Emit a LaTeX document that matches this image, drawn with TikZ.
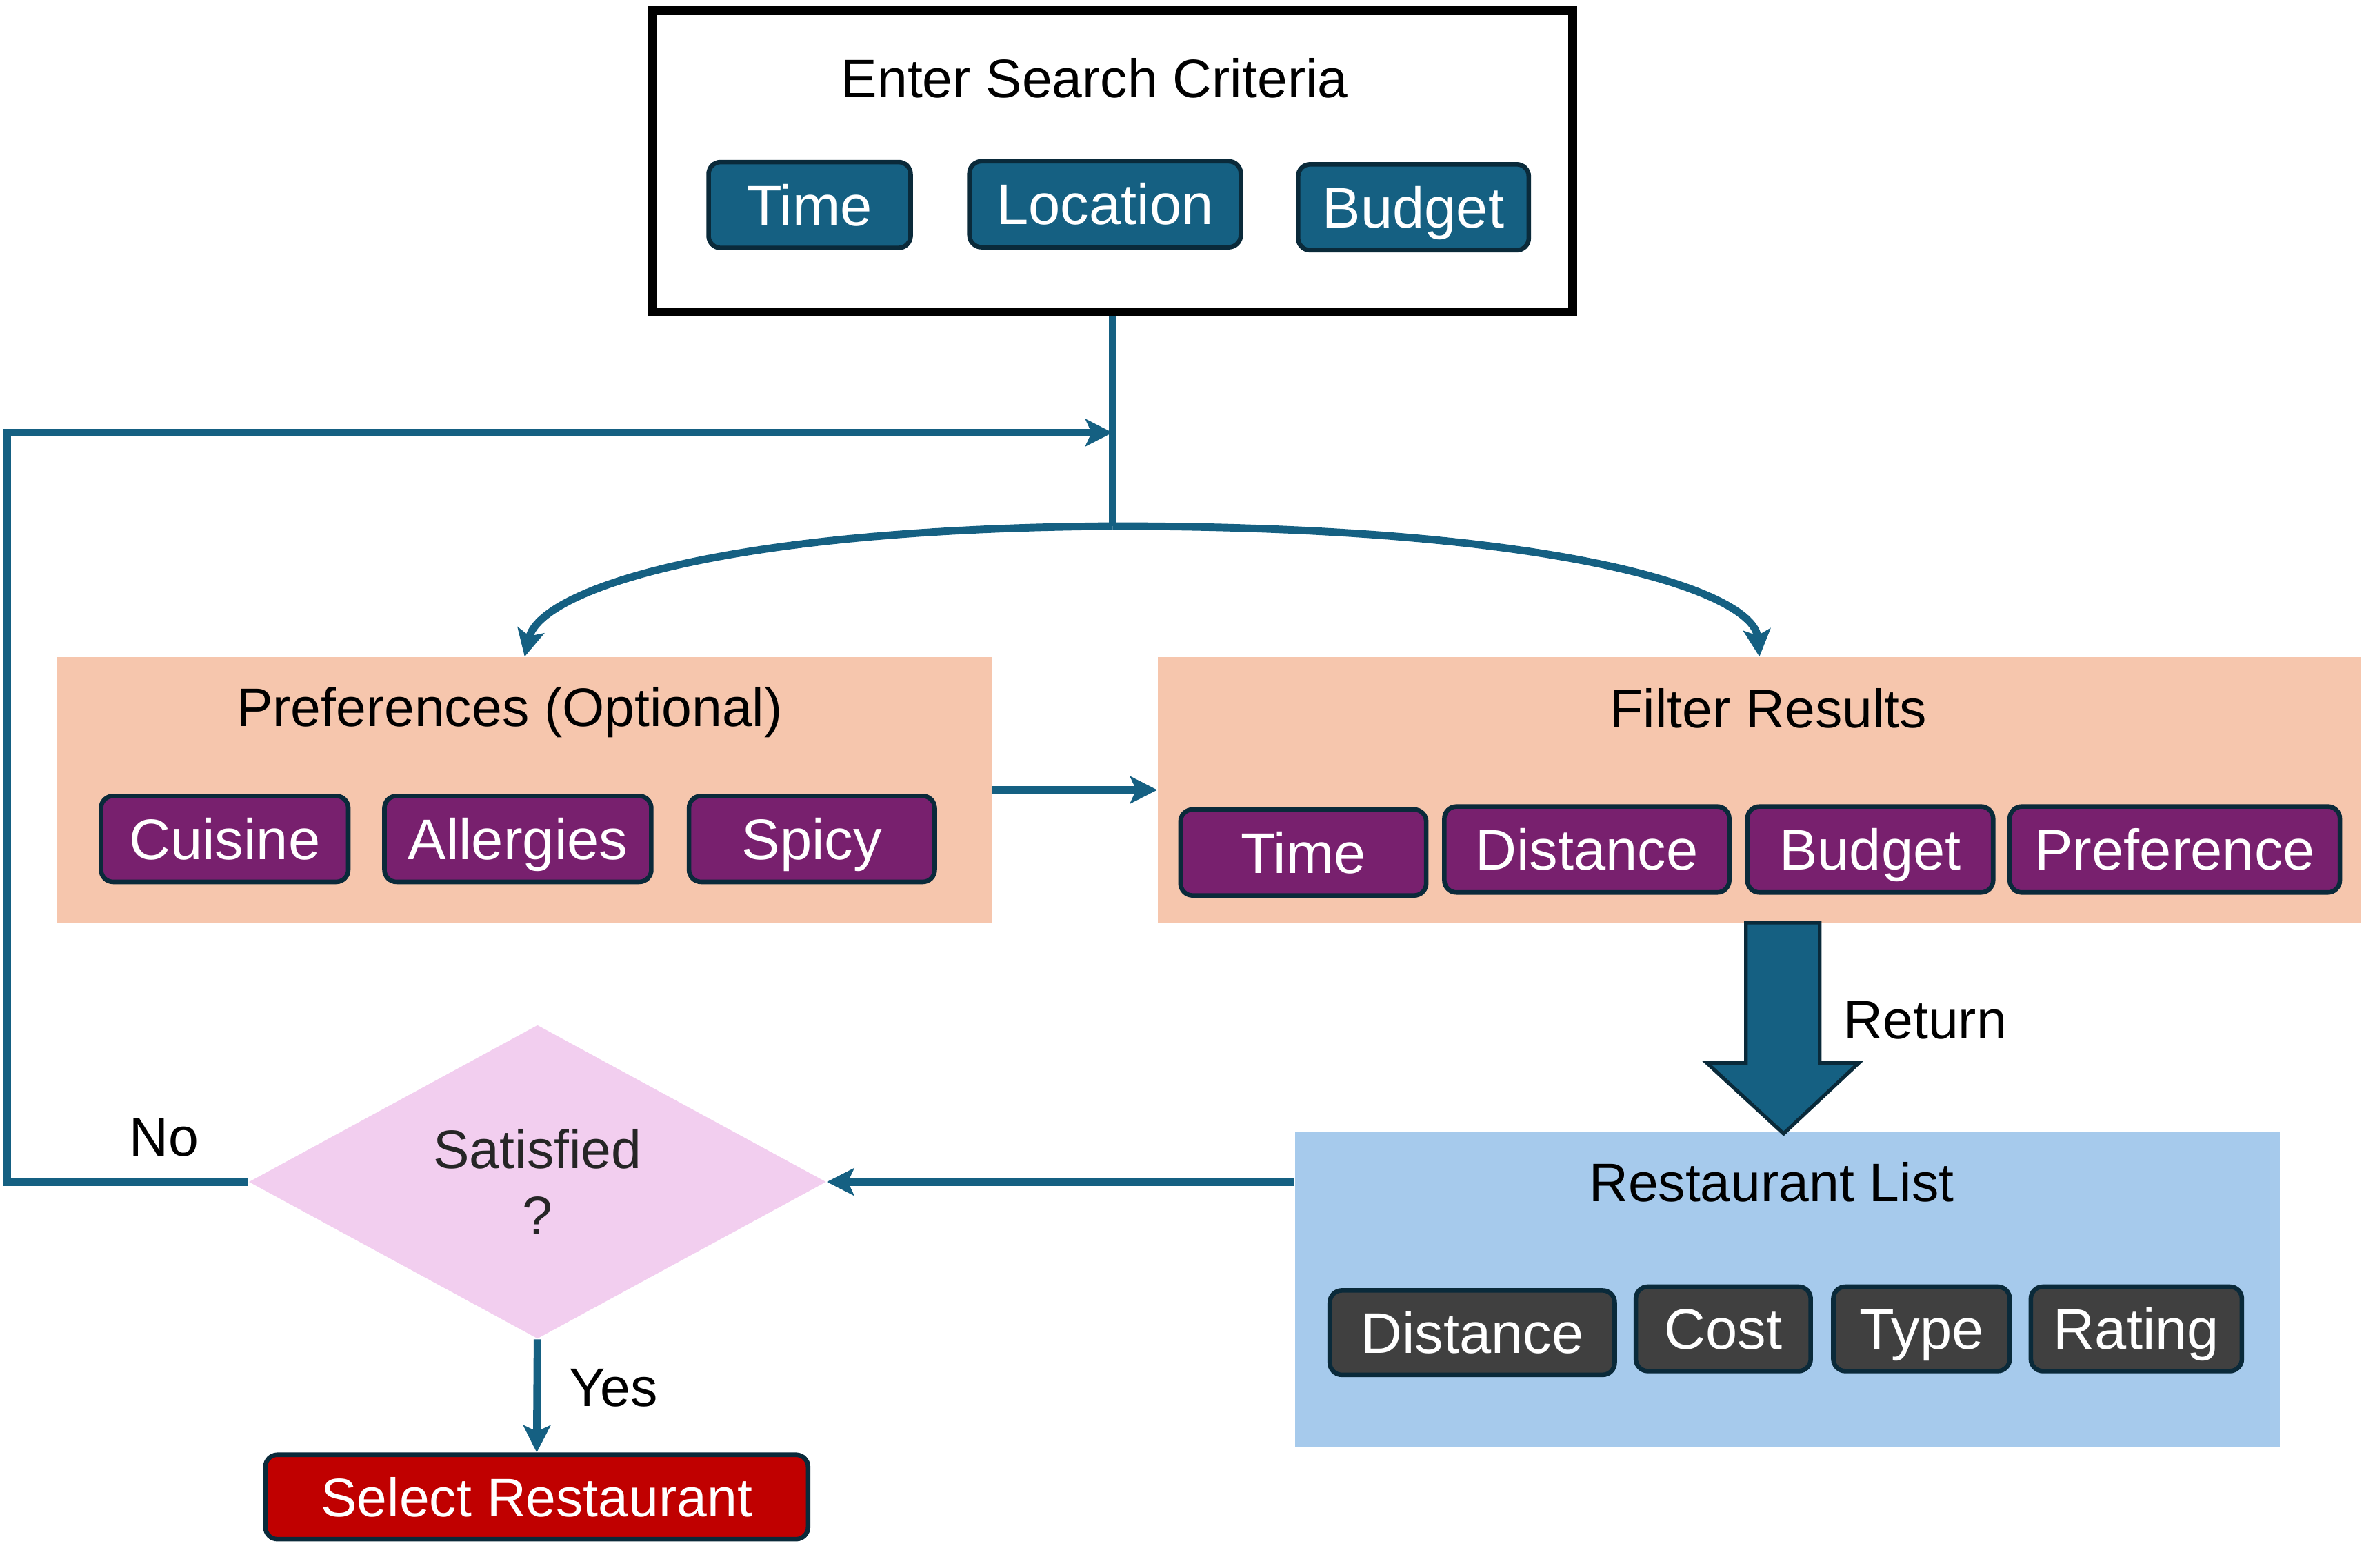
\documentclass[tikz,border=0pt]{standalone}
\usepackage{fontspec}
\setmainfont{Liberation Sans}
\usetikzlibrary{arrows.meta,shapes.geometric,calc}
\definecolor{accblue}{HTML}{156082}
\definecolor{btnline}{HTML}{0A2A3A}
\definecolor{accpurple}{HTML}{78206E}
\definecolor{accgray}{HTML}{404040}
\definecolor{accpeach}{HTML}{F6C6AD}
\definecolor{acclight}{HTML}{A6CAEC}
\definecolor{accpink}{HTML}{F2CEEF}
\definecolor{accred}{HTML}{C00000}
\begin{document}
\begin{tikzpicture}[x=0.5pt,y=-0.5pt,
  btn/.style={draw=btnline, line width=1.5pt, rounded corners=4pt, text=white,
    font=\fontsize{19}{22}\selectfont, minimum height=28.5pt, inner sep=0pt,
    text height=13.6pt, text depth=0pt},
  bluebtn/.style={btn, fill=accblue},
  purplebtn/.style={btn, fill=accpurple},
  graybtn/.style={btn, fill=accgray, minimum height=28pt},
  panel/.style={inner sep=0pt, draw=none},
  lbl/.style={font=\fontsize{18}{22}\selectfont, inner sep=0pt, text height=12.9pt, text depth=0pt},
  conn/.style={draw=accblue, line width=2.5pt},
  arr/.style={conn, -{Stealth[length=9pt,width=9pt,inset=2pt]}}
]
\useasboundingbox (0,0) rectangle (1568,1040);

% top box
\node[panel, draw=black, line width=3pt, fill=white, minimum width=305pt, minimum height=100pt] (top) at (738,107) {};
\node[lbl] (toptitle) at (726,52) {Enter Search Criteria};
\node[bluebtn, minimum width=67pt] (ttime) at (537,136) {Time};
\node[bluebtn, minimum width=90pt] (tloc) at (733,135.5) {Location};
\node[bluebtn, minimum width=76.5pt] (tbud) at (937.5,137.5) {Budget};

% preferences
\node[panel, fill=accpeach, minimum width=310pt, minimum height=88pt] (pref) at (348,524) {};
\node[lbl] (preftitle) at (338,469) {Preferences (Optional)};
\node[purplebtn, minimum width=82pt] (pcui) at (149,556.5) {Cuisine};
\node[purplebtn, minimum width=88.5pt] (pall) at (343.5,556.5) {Allergies};
\node[purplebtn, minimum width=81.5pt] (pspi) at (538.5,556.5) {Spicy};

% filter
\node[panel, fill=accpeach, minimum width=399pt, minimum height=88pt] (filt) at (1167,524) {};
\node[lbl] (filttitle) at (1173,470) {Filter Results};
\node[purplebtn, minimum width=81.5pt] (ftime) at (864.5,565.5) {Time};
\node[purplebtn, minimum width=94.5pt] (fdist) at (1052.5,563.5) {Distance};
\node[purplebtn, minimum width=81.5pt] (fbud) at (1240.5,563.5) {Budget};
\node[purplebtn, minimum width=109.5pt] (fpref) at (1442.5,563.5) {Preference};

% restaurant list
\node[panel, fill=acclight, minimum width=326.5pt, minimum height=104.5pt] (rl) at (1185.5,855.5) {};
\node[lbl] (rltitle) at (1175,784) {Restaurant List};
\node[graybtn, minimum width=94.5pt] (rdist) at (976.5,884) {Distance};
\node[graybtn, minimum width=58pt] (rcost) at (1143,881.5) {Cost};
\node[graybtn, minimum width=58.5pt] (rtype) at (1274.5,881.5) {Type};
\node[graybtn, minimum width=70pt] (rrat) at (1417,881.5) {Rating};

% diamond
\node[diamond, fill=accpink, minimum width=191.5pt, minimum height=102pt, inner sep=0pt,
  align=center, font=\fontsize{18}{22}\selectfont, text=black!85] (dia) at (356.5,784) {Satisfied\\?};

% select restaurant
\node[btn, fill=accred, minimum width=180pt, minimum height=28pt,
  font=\fontsize{18}{22}\selectfont, text height=12.9pt] (sel) at (356,993) {Select Restaurant};

% block arrow
\draw[draw=btnline, line width=1.2pt, fill=accblue, line join=miter]
  (1158,612) -- (1207,612) -- (1207,705) -- (1233,705) -- (1183,752) -- (1132,705) -- (1158,705) -- cycle;
\node[lbl] (ret) at (1277,676) {Return};

% labels
\node[lbl] (nolbl) at (109,754) {No};
\node[lbl] (yeslbl) at (407,920) {Yes};

% connectors
\coordinate (j1) at (738,287);
\coordinate (j2) at (738,349);
\coordinate (loopx) at (5,287);
\draw[conn] (top.south) -- (j2);
\draw[arr, line join=miter] (dia.west) -| (loopx) -- (j1);
\draw[arr] (j2) .. controls (470,351) and (358,393) .. (pref.north);
\draw[arr] (j2) .. controls (1040,349) and (1163,393) .. (filt.north);
\draw[arr] (pref.east) -- (filt.west);
\draw[arr] (dia.east -| rl.west) -- (dia.east);
\draw[arr] (dia.south) -- (sel.north);
\end{tikzpicture}
\end{document}
